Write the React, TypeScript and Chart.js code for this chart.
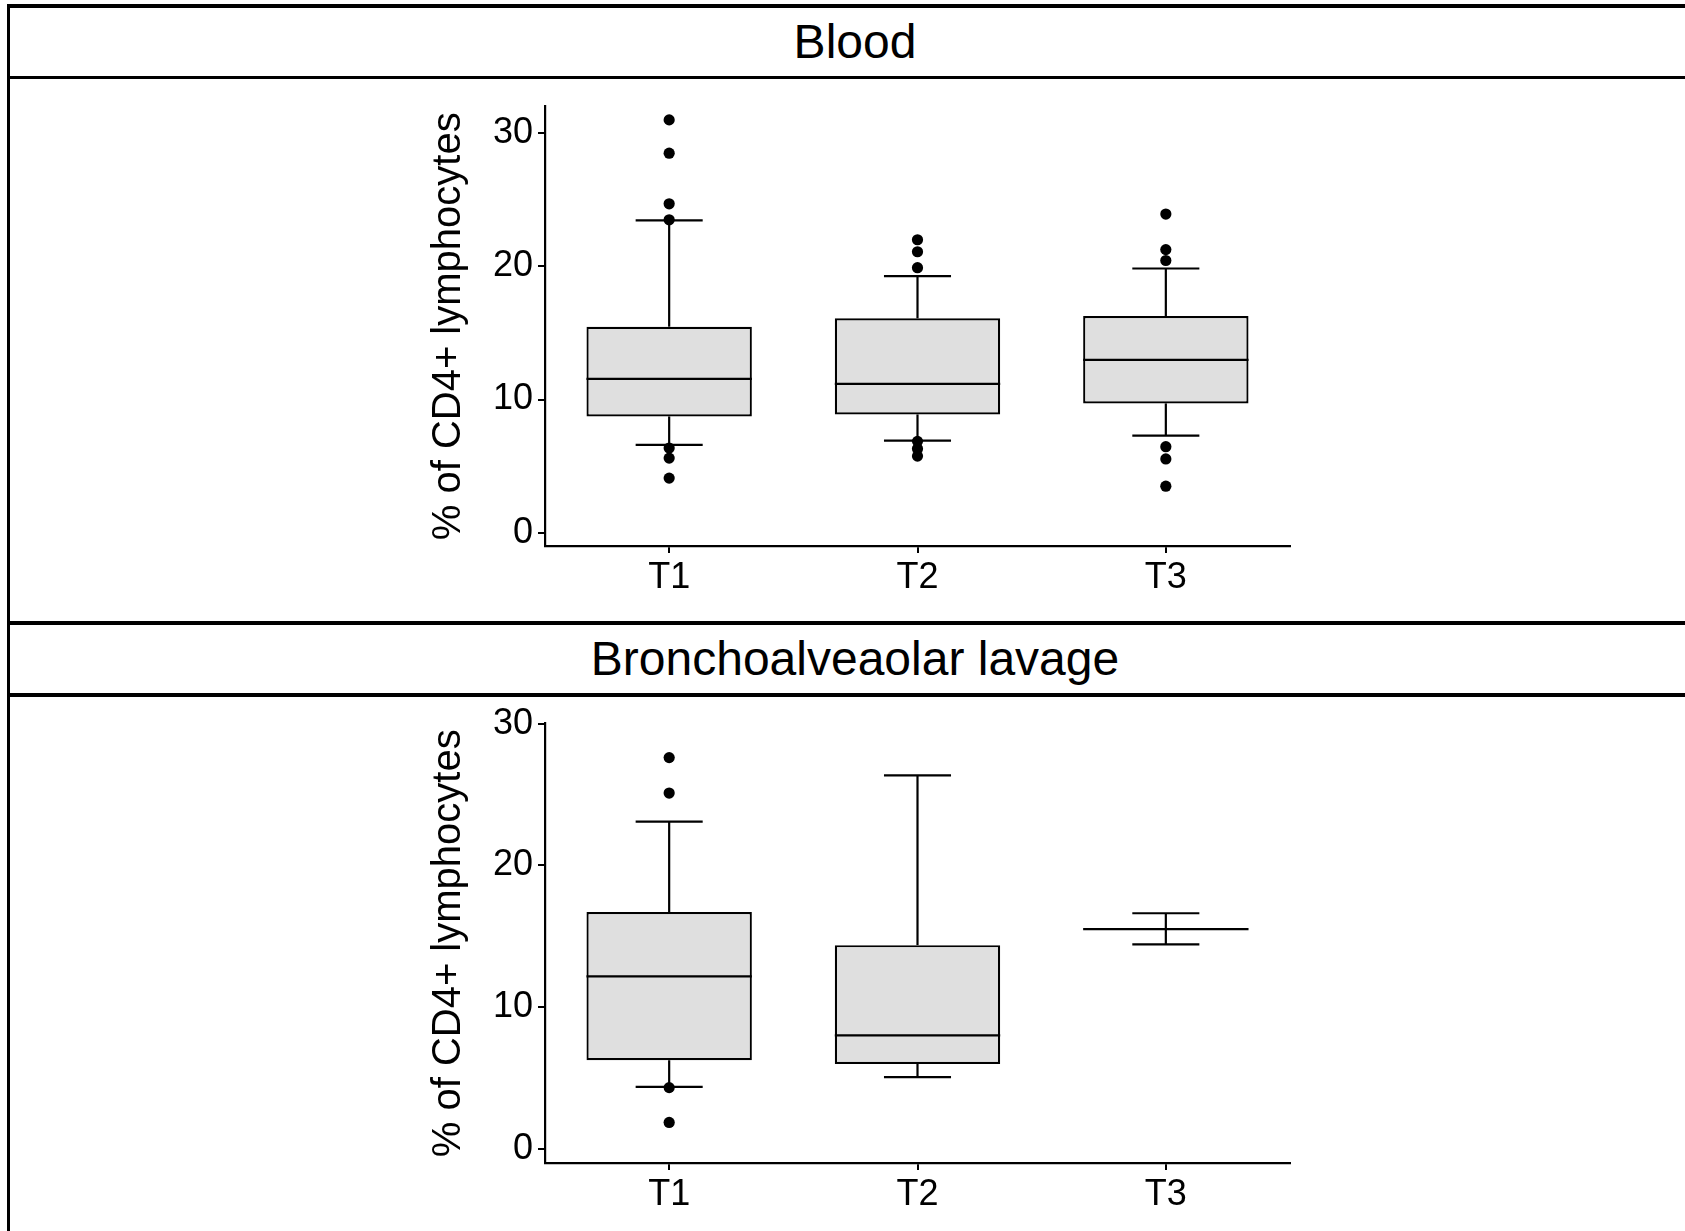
import React, { useEffect, useRef } from 'react';
import { Chart, registerables } from 'chart.js';

Chart.register(...registerables);

// ---------- data ----------
const CATEGORIES = ['T1', 'T2', 'T3'];
const Y_TICKS = [0, 10, 20, 30];
const Y_TITLE = '% of CD4+ lymphocytes';

const BLOOD_TITLE = 'Blood';
const BLOOD_Y_RANGE = [-1, 32];
const BLOOD_LOWER = [6.59, 6.91, 7.29];
const BLOOD_Q1 = [8.73, 8.88, 9.71];
const BLOOD_MEDIAN = [11.55, 11.18, 12.98];
const BLOOD_Q3 = [15.47, 16.1, 16.27];
const BLOOD_UPPER = [23.45, 19.27, 19.84];
const BLOOD_OUT_T1 = [31.0, 28.5, 24.7, 23.5, 6.36, 5.6, 4.1];
const BLOOD_OUT_T2 = [22.0, 21.1, 19.9, 6.86, 6.3, 5.75];
const BLOOD_OUT_T3 = [23.93, 21.26, 20.44, 6.46, 5.54, 3.49];

const BAL_TITLE = 'Bronchoalveaolar lavage';
const BAL_Y_RANGE = [-1, 30];
const BAL_LOWER = [4.37, 5.06, 14.42];
const BAL_Q1 = [6.25, 5.99, 15.5];
const BAL_MEDIAN = [12.17, 8.0, 15.5];
const BAL_Q3 = [16.7, 14.37, 15.5];
const BAL_UPPER = [23.08, 26.35, 16.62];
const BAL_OUT_T1 = [27.6, 25.1, 4.32, 1.86];
const BAL_OUT_T2: number[] = [];
const BAL_OUT_T3: number[] = [];

// ---------- styling ----------
const FONT = "'Liberation Sans', Arial, Helvetica, sans-serif";
const BOX_FILL = '#dfdfdf';

type Stats = {
  lower: number[];
  q1: number[];
  median: number[];
  q3: number[];
  upper: number[];
  outliers: number[][];
  yRange: number[];
  xAxisHeight: number;
};

function makeBoxPlugin(stats: Stats) {
  return {
    id: 'boxWhisker',
    afterDatasetDraw(chart: any, args: any) {
      if (args.index !== 0) return;
      const ctx = chart.ctx;
      const x = chart.scales.x;
      const y = chart.scales.y;
      const meta = chart.getDatasetMeta(0);
      const step = x.getPixelForValue(1) - x.getPixelForValue(0);
      const capHalf = step * 0.135;
      ctx.save();
      ctx.strokeStyle = '#000';
      ctx.lineWidth = 2.2;
      ctx.lineCap = 'butt';
      const line = (x1: number, y1: number, x2: number, y2: number) => {
        ctx.beginPath();
        ctx.moveTo(x1, y1);
        ctx.lineTo(x2, y2);
        ctx.stroke();
      };
      meta.data.forEach((bar: any, i: number) => {
        const cx = bar.x;
        const half = bar.width / 2;
        const pLo = y.getPixelForValue(stats.lower[i]);
        const pQ1 = y.getPixelForValue(stats.q1[i]);
        const pMed = y.getPixelForValue(stats.median[i]);
        const pQ3 = y.getPixelForValue(stats.q3[i]);
        const pHi = y.getPixelForValue(stats.upper[i]);
        line(cx, pQ3, cx, pHi);
        line(cx - capHalf, pHi, cx + capHalf, pHi);
        line(cx, pQ1, cx, pLo);
        line(cx - capHalf, pLo, cx + capHalf, pLo);
        line(cx - half, pMed, cx + half, pMed);
      });
      ctx.restore();
    },
  };
}

function makeConfig(stats: Stats): any {
  const points: { x: string; y: number }[] = [];
  stats.outliers.forEach((arr, i) => {
    arr.forEach((v) => points.push({ x: CATEGORIES[i], y: v }));
  });
  return {
    type: 'bar',
    data: {
      labels: CATEGORIES,
      datasets: [
        {
          type: 'bar',
          data: CATEGORIES.map((_, i) => [stats.q1[i], stats.q3[i]]),
          backgroundColor: BOX_FILL,
          borderColor: '#000',
          borderWidth: 2.2,
          borderSkipped: false,
          barPercentage: 0.666,
          categoryPercentage: 1,
          order: 1,
        },
        {
          type: 'line',
          data: points,
          showLine: false,
          pointRadius: 5.6,
          pointHoverRadius: 5.6,
          pointBackgroundColor: '#000',
          pointBorderColor: '#000',
          pointBorderWidth: 0,
          order: 0,
        },
      ],
    },
    options: {
      responsive: false,
      animation: false,
      events: [],
      layout: { padding: { left: 425, right: 395, top: 26, bottom: 0 } },
      plugins: {
        legend: { display: false },
        tooltip: { enabled: false },
      },
      scales: {
        x: {
          type: 'category',
          offset: true,
          grid: {
            display: true,
            drawOnChartArea: false,
            drawTicks: true,
            tickLength: 7,
            color: '#000',
            lineWidth: 2,
            offset: false,
          },
          border: { display: true, color: '#000', width: 2.2 },
          ticks: { color: '#000', font: { family: FONT, size: 36 }, padding: 3 },
          afterFit: (s: any) => {
            s.height = stats.xAxisHeight;
          },
        },
        y: {
          type: 'linear',
          min: stats.yRange[0],
          max: stats.yRange[1],
          grid: {
            display: true,
            drawOnChartArea: false,
            drawTicks: true,
            tickLength: 7,
            color: '#000',
            lineWidth: 2,
          },
          border: { display: true, color: '#000', width: 2.2 },
          ticks: { color: '#000', font: { family: FONT, size: 36 }, padding: 5 },
          afterBuildTicks: (s: any) => {
            s.ticks = Y_TICKS.map((v) => ({ value: v }));
          },
          afterFit: (s: any) => {
            s.width = 120;
          },
          title: {
            display: true,
            text: Y_TITLE,
            color: '#000',
            font: { family: FONT, size: 40 },
            padding: { top: 0, bottom: 0 },
          },
        },
      },
    },
    plugins: [makeBoxPlugin(stats)],
  };
}

function BoxChart({ stats, top, height }: { stats: Stats; top: number; height: number }) {
  const ref = useRef<HTMLCanvasElement | null>(null);
  useEffect(() => {
    if (!ref.current) return;
    const chart = new Chart(ref.current, makeConfig(stats));
    return () => chart.destroy();
  }, [stats]);
  return (
    <canvas
      ref={ref}
      width={1685}
      height={height}
      style={{ position: 'absolute', left: 0, top, width: 1685, height, display: 'block' }}
    />
  );
}

const bloodStats: Stats = {
  lower: BLOOD_LOWER,
  q1: BLOOD_Q1,
  median: BLOOD_MEDIAN,
  q3: BLOOD_Q3,
  upper: BLOOD_UPPER,
  outliers: [BLOOD_OUT_T1, BLOOD_OUT_T2, BLOOD_OUT_T3],
  yRange: BLOOD_Y_RANGE,
  xAxisHeight: 74,
};

const balStats: Stats = {
  lower: BAL_LOWER,
  q1: BAL_Q1,
  median: BAL_MEDIAN,
  q3: BAL_Q3,
  upper: BAL_UPPER,
  outliers: [BAL_OUT_T1, BAL_OUT_T2, BAL_OUT_T3],
  yRange: BAL_Y_RANGE,
  xAxisHeight: 68,
};

function HLine({ top }: { top: number }) {
  return (
    <div style={{ position: 'absolute', left: 6.5, top, width: 1690, height: 3.5, background: '#000' }} />
  );
}

function Strip({ top, text }: { top: number; text: string }) {
  return (
    <div
      style={{
        position: 'absolute',
        left: 0,
        width: 1710,
        top,
        height: 68,
        display: 'flex',
        alignItems: 'center',
        justifyContent: 'center',
        fontFamily: FONT,
        fontSize: 48,
        color: '#000',
        whiteSpace: 'nowrap',
      }}
    >
      {text}
    </div>
  );
}

export default function App() {
  return (
    <div
      style={{
        position: 'absolute',
        left: 0,
        top: 0,
        width: 1685,
        height: 1231,
        overflow: 'hidden',
        background: '#fff',
      }}
    >
      <BoxChart stats={bloodStats} top={80} height={540} />
      <BoxChart stats={balStats} top={697} height={534} />
      <Strip top={7.5} text={BLOOD_TITLE} />
      <Strip top={624.5} text={BAL_TITLE} />
      <HLine top={4} />
      <HLine top={75.5} />
      <HLine top={621} />
      <HLine top={693} />
      <div style={{ position: 'absolute', left: 6.5, top: 4, width: 3.5, height: 1240, background: '#000' }} />
    </div>
  );
}
